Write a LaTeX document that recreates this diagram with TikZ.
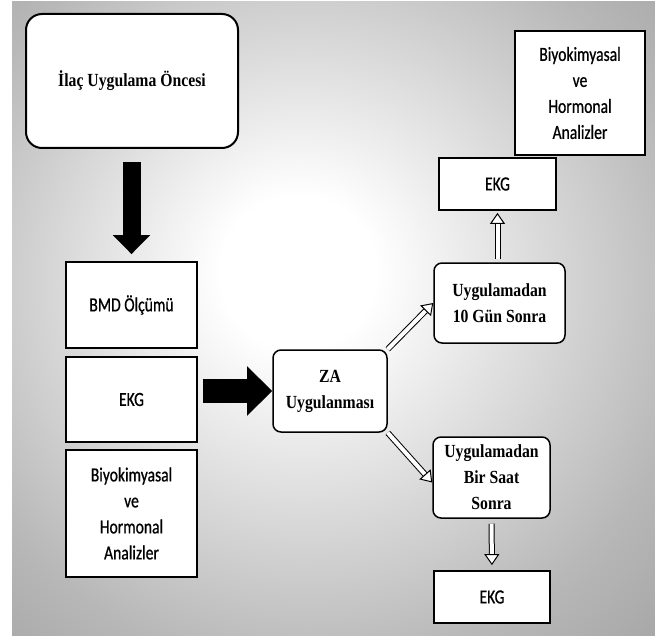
\documentclass[tikz,border=0pt]{standalone}
\usepackage{fontspec}
\setmainfont[FakeStretch=0.85]{Liberation Serif}
\newfontfamily\calib[FakeStretch=0.78, FakeBold=0.7]{Carlito}
\usetikzlibrary{arrows.meta}
\pgfdeclareradialshading{bgglow}{\pgfpoint{-3bp}{4bp}}{color(0bp)=(white); color(6bp)=(white); color(30bp)=(black!28); color(50bp)=(black!44); color(75bp)=(black!52)}

\begin{document}
\begin{tikzpicture}[x=1pt, y=-1pt,
  rbox/.style={draw, rounded corners=8pt, line width=1.5pt, fill=white, align=center,
               font=\fontsize{18.5}{26}\selectfont\bfseries, inner sep=2pt},
  sbox/.style={draw, line width=1.8pt, fill=white, align=center,
               font=\calib\fontsize{20}{26}\selectfont, inner sep=2pt},
  bigarr/.style={line width=#1, -{Triangle[length=1.05*#1, width=2*#1]}},
  holarr/.style={double, double distance=4pt, line width=1pt,
                 -{Triangle[open, fill=white, line width=1pt, length=11pt, width=15pt]}}
]
\useasboundingbox (0,0) rectangle (655,636);
\shade[shading=bgglow] (12,2) rectangle (655,636);

% before the drug
\node[rbox, rounded corners=16pt, line width=2pt, minimum width=212pt, minimum height=134pt] (ilac) at (132,81) {İlaç Uygulama Öncesi};
\node[sbox, minimum width=131pt, minimum height=86pt]  (bmd)   at (131.5,305)   {BMD Ölçümü};
\node[sbox, minimum width=131pt, minimum height=85pt]  (ekga)  at (131.5,399.5) {EKG};
\node[sbox, minimum width=131pt, minimum height=127pt] (bioa)  at (131.5,513.5) {Biyokimyasal\\ve\\Hormonal\\Analizler};

% ZA and after
\node[rbox, minimum width=114pt, minimum height=82pt]  (za)    at (330,391)     {ZA\\Uygulanması};
\node[rbox, minimum width=131pt, minimum height=80pt]  (gun)   at (499.5,303)   {Uygulamadan\\10 Gün Sonra};
\node[rbox, minimum width=117pt, minimum height=81pt]  (saat)  at (491.5,477.5) {Uygulamadan\\Bir Saat\\Sonra};
\node[sbox, minimum width=117pt, minimum height=52pt]  (ekgb)  at (497.5,184)   {EKG};
\node[sbox, minimum width=130pt, minimum height=124pt] (biob)  at (580,93)      {Biyokimyasal\\ve\\Hormonal\\Analizler};
\node[sbox, minimum width=116pt, minimum height=52pt]  (ekgc)  at (492,597)     {EKG};

\draw[bigarr=18pt, shorten <=13pt, shorten >=7pt] (ilac.south -| bmd.north) -- (bmd.north);
\draw[bigarr=24pt, shorten <=5pt] (ekga.east |- za.west) -- (za.west);
\draw[holarr] (za.north east) -- (gun.west);
\draw[holarr] (za.south east) -- ([yshift=-5pt]saat.west);
\draw[holarr, shorten <=3pt, shorten >=2pt] (gun.north -| ekgb.south) -- (ekgb.south);
\draw[holarr, shorten <=5pt, shorten >=5pt] (saat.south) -- (ekgc.north);
\end{tikzpicture}
\end{document}
